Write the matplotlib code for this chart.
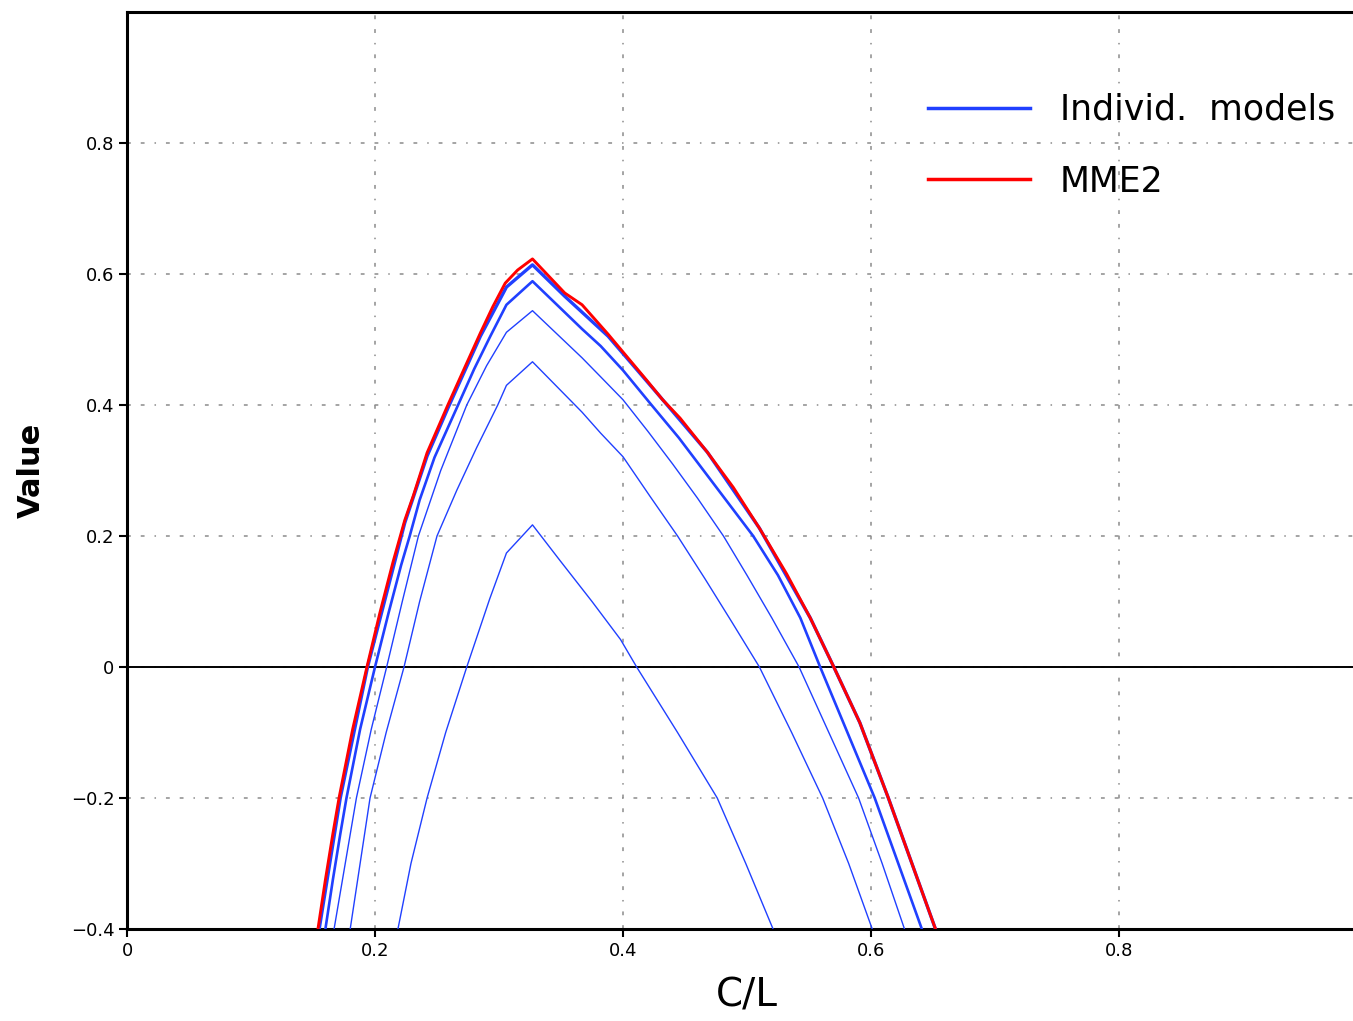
import matplotlib.pyplot as plt
from matplotlib.lines import Line2D

# MME2 curve
mme2_cl = [0.154, 0.160, 0.166, 0.171, 0.182, 0.1935, 0.204, 0.2145, 0.224,
           0.231, 0.242, 0.259, 0.274, 0.285, 0.295, 0.305, 0.315, 0.327,
           0.353, 0.367, 0.388, 0.419, 0.432, 0.446, 0.468, 0.489, 0.510,
           0.532, 0.551, 0.570, 0.591, 0.614, 0.633, 0.652]
mme2_val = [-0.40, -0.325, -0.255, -0.20, -0.095, 0.00, 0.083, 0.160, 0.224,
            0.262, 0.327, 0.401, 0.464, 0.510, 0.550, 0.586, 0.606, 0.623,
            0.571, 0.553, 0.508, 0.438, 0.408, 0.380, 0.328, 0.274, 0.212,
            0.142, 0.075, 0.00, -0.085, -0.20, -0.30, -0.40]

# individual models
m1_cl = [0.160, 0.166, 0.172, 0.177, 0.188, 0.200, 0.211, 0.221, 0.228,
         0.236, 0.248, 0.267, 0.280, 0.293, 0.306, 0.327, 0.367, 0.382,
         0.400, 0.423, 0.445, 0.465, 0.485, 0.505, 0.525, 0.543, 0.559,
         0.581, 0.603, 0.622, 0.641]
m1_val = [-0.40, -0.325, -0.255, -0.20, -0.095, 0.00, 0.083, 0.155, 0.20,
          0.255, 0.320, 0.40, 0.455, 0.505, 0.553, 0.589, 0.516, 0.490,
          0.453, 0.40, 0.350, 0.300, 0.250, 0.20, 0.140, 0.075, 0.00,
          -0.10, -0.20, -0.30, -0.40]

m2_cl = [0.167, 0.176, 0.185, 0.197, 0.2094, 0.222, 0.235, 0.253, 0.274,
         0.290, 0.306, 0.327, 0.367, 0.382, 0.400, 0.420, 0.440, 0.460,
         0.481, 0.500, 0.520, 0.542, 0.566, 0.590, 0.609, 0.627]
m2_val = [-0.40, -0.30, -0.20, -0.095, 0.00, 0.10, 0.20, 0.30, 0.40,
          0.46, 0.511, 0.544, 0.472, 0.443, 0.408, 0.36, 0.31, 0.258,
          0.20, 0.14, 0.075, 0.00, -0.10, -0.20, -0.30, -0.40]

m3_cl = [0.180, 0.188, 0.196, 0.209, 0.2234, 0.236, 0.250, 0.266, 0.282,
         0.299, 0.306, 0.327, 0.367, 0.382, 0.400, 0.422, 0.444, 0.466,
         0.488, 0.510, 0.536, 0.561, 0.582, 0.601]
m3_val = [-0.40, -0.30, -0.20, -0.10, 0.00, 0.10, 0.20, 0.27, 0.335,
          0.40, 0.430, 0.466, 0.389, 0.357, 0.321, 0.26, 0.20, 0.135,
          0.068, 0.00, -0.10, -0.20, -0.30, -0.40]

m4_cl = [0.2185, 0.229, 0.242, 0.257, 0.274, 0.2925, 0.306, 0.327, 0.349,
         0.375, 0.398, 0.411, 0.444, 0.476, 0.499, 0.521]
m4_val = [-0.40, -0.30, -0.20, -0.10, 0.00, 0.104, 0.174, 0.217, 0.163,
          0.10, 0.042, 0.00, -0.10, -0.20, -0.30, -0.40]

# one model lies almost on top of MME2
m5_cl = [0.155, 0.172, 0.194, 0.224, 0.242, 0.259, 0.285, 0.306, 0.327,
         0.353, 0.388, 0.432, 0.468, 0.510, 0.551, 0.570, 0.591, 0.614, 0.652]
m5_val = [-0.40, -0.20, 0.00, 0.22, 0.322, 0.396, 0.505, 0.580, 0.614,
          0.566, 0.505, 0.408, 0.328, 0.212, 0.075, 0.00, -0.085, -0.20, -0.40]

x_ticks = [0, 0.2, 0.4, 0.6, 0.8]
x_tick_labels = ["0", "0.2", "0.4", "0.6", "0.8"]
y_ticks = [-0.4, -0.2, 0, 0.2, 0.4, 0.6, 0.8]
y_tick_labels = ["\u22120.4", "\u22120.2", "0", "0.2", "0.4", "0.6", "0.8"]

blue = "#2040ff"
red = "#ff0000"

fig = plt.figure(figsize=(13.53, 10.21), dpi=100)
ax = fig.add_axes([127 / 1353, 1 - 929 / 1021, 1240 / 1353, 917 / 1021])

ax.grid(True, color="#8c8c8c", linestyle=(0, (2.5, 6.5, 2.5, 6.5, 1, 6.5)),
        linewidth=1.1)
ax.axhline(0, color="black", linewidth=1.4, zorder=2)

ax.plot(m4_cl, m4_val, color=blue, linewidth=1.0, zorder=3)
ax.plot(m3_cl, m3_val, color=blue, linewidth=1.0, zorder=3)
ax.plot(m2_cl, m2_val, color=blue, linewidth=1.0, zorder=3)
ax.plot(m1_cl, m1_val, color=blue, linewidth=1.9, zorder=3)
ax.plot(m5_cl, m5_val, color=blue, linewidth=2.4, zorder=3)
ax.plot(mme2_cl, mme2_val, color=red, linewidth=2.1, zorder=4)

ax.set_xlim(0, 1)
ax.set_ylim(-0.4, 1.0)
ax.set_xticks(x_ticks)
ax.set_xticklabels(x_tick_labels)
ax.set_yticks(y_ticks)
ax.set_yticklabels(y_tick_labels)
ax.tick_params(direction="out", length=6, width=1.5, labelsize=13, pad=3)

for s in ["left", "top", "bottom"]:
    ax.spines[s].set_linewidth(2.2)
ax.spines["right"].set_visible(False)

ax.set_xlabel("C/L", fontsize=28, labelpad=12)
ax.set_ylabel("Value", fontsize=22, fontweight="bold", labelpad=18)

handles = [Line2D([], [], color=blue, linewidth=2.5),
           Line2D([], [], color=red, linewidth=2.5)]
fig.legend(handles, ["Individ.  models", "MME2"], loc="upper left",
           bbox_to_anchor=(928 / 1353, 1 - 93 / 1021), frameon=False,
           fontsize=25, handlelength=2.94, handletextpad=0.86,
           labelspacing=1.08, borderpad=0, borderaxespad=0)

fig.savefig("out.png", dpi=100)
